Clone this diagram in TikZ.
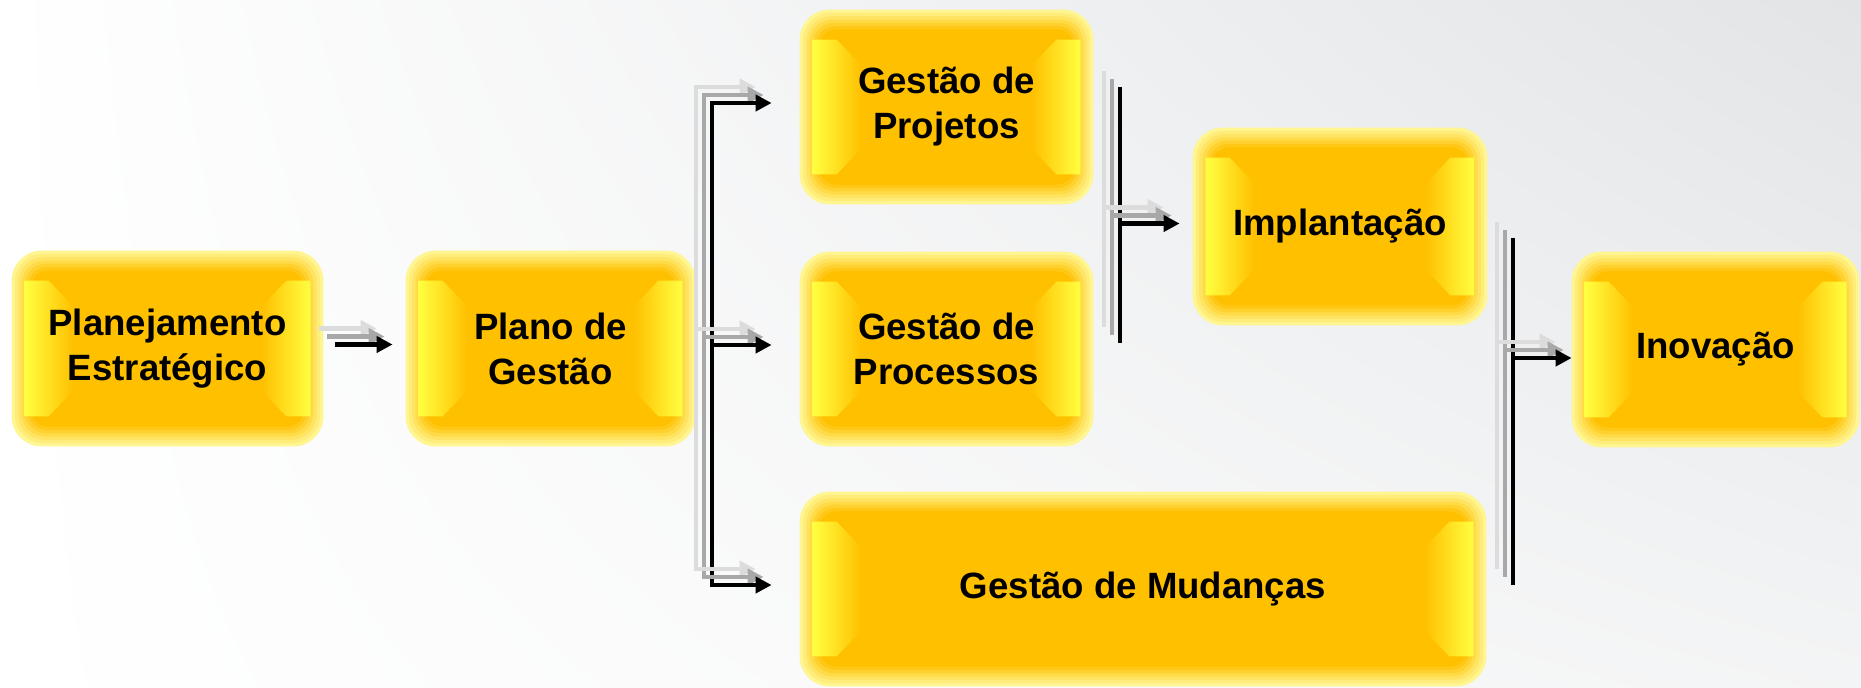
\documentclass[tikz,border=0pt]{standalone}
\usepackage{fontspec}
\setmainfont{Liberation Sans}
\usetikzlibrary{arrows.meta,calc,shadings}
\definecolor{core}{HTML}{FFC000}
\definecolor{glowA}{HTML}{FFF591}
\definecolor{band}{HTML}{FFFF40}
\definecolor{bgGray}{HTML}{E2E4E6}
\definecolor{shA}{HTML}{A8A8A8}
\definecolor{shB}{HTML}{DCDCDC}
\pgfdeclarelayer{bg}\pgfdeclarelayer{boxes}\pgfsetlayers{bg,boxes,main}
\tikzset{
 boxtxt/.style={inner sep=0pt, align=center, font=\bfseries\fontsize{18.3}{22.5}\selectfont},
 conn/.style={line width=2.3pt, line join=miter, -{Triangle[length=8pt,width=8pt]}},
 bar/.style={line width=2.3pt},
}
\newcommand\shdraw[2]{%
 \draw[#1, color=shB, transform canvas={shift={(-16,-16)}}] #2;
 \draw[#1, color=shA, transform canvas={shift={(-8,-8)}}] #2;
 \draw[#1, color=black] #2;}
\newcommand\gbox[6]{%
 \node[boxtxt, minimum width=#4*0.5pt, minimum height=#5*0.5pt] (#1) at (#2,#3) {#6};
 \begin{pgfonlayer}{boxes}
  \foreach \i/\pc in {0/0,1/15,2/32,3/50,4/68,5/84,6/100}{%
   \fill[core!\pc!glowA, rounded corners={15pt-1.1pt*\i}]
     ([shift={({3.3*\i},{3.3*\i})}]#1.north west) rectangle ([shift={({-3.3*\i},{-3.3*\i})}]#1.south east);}
  \shade[left color=band, middle color=band, right color=core]
   ([shift={(13,30)}]#1.north west) -- ([shift={(37,30)}]#1.north west) -- ([shift={(62,56)}]#1.north west)
   -- ([shift={(62,-56)}]#1.south west) -- ([shift={(37,-30)}]#1.south west) -- ([shift={(13,-30)}]#1.south west) -- cycle;
  \shade[left color=core, middle color=band, right color=band]
   ([shift={(-13,30)}]#1.north east) -- ([shift={(-37,30)}]#1.north east) -- ([shift={(-62,56)}]#1.north east)
   -- ([shift={(-62,-56)}]#1.south east) -- ([shift={(-37,-30)}]#1.south east) -- ([shift={(-13,-30)}]#1.south east) -- cycle;
 \end{pgfonlayer}}
\begin{document}
\begin{tikzpicture}[x=0.5pt,y=-0.5pt]
\useasboundingbox (0,0) rectangle (1861,687);
\begin{pgfonlayer}{bg}
 \shade[upper left=white, upper right=bgGray, lower left=white, lower right=white!60!bgGray] (0,0) rectangle (1861,687);
\end{pgfonlayer}

\gbox{pe}{167.5}{348.5}{311}{195}{Planejamento\\Estratégico}
\gbox{pg}{550.5}{348.5}{289}{195}{Plano de\\Gestão}
\gbox{gp}{946.5}{107}{293}{194}{Gestão de\\Projetos}
\gbox{gq}{946.5}{349}{293}{194}{Gestão de\\Processos}
\gbox{gm}{1143}{589}{686}{194}{Gestão de Mudanças}
\gbox{im}{1340}{226.5}{294}{197}{Implantação}
\gbox{iv}{1715.5}{349.5}{287}{195}{Inovação}

% arrow Planejamento -> Plano
\coordinate (a1) at ([yshift=2pt]pe.east);
\coordinate (a2) at ([yshift=2pt]pg.west);
\shdraw{conn, shorten <=6pt, shorten >=6.5pt}{(a1) -- (a2)}

% bracket from Plano de Gestao
\coordinate (b1) at (712,0);
\coordinate (tp) at ([yshift=2pt]gp.west);
\coordinate (tq) at ([yshift=2pt]gq.west);
\coordinate (tm) at ([yshift=2pt]gm.west);
\shdraw{conn, shorten >=14pt}{(b1 |- tm) |- (tp)}
\shdraw{conn, shorten >=14pt}{(b1 |- tq) -- (tq)}
\shdraw{conn, line cap=rect, shorten >=14pt}{(b1 |- tm) -- (tm)}

% bar to Implantacao
\coordinate (v2a) at (1120,87);
\coordinate (v2b) at (1120,343);
\shdraw{bar}{(v2a) -- (v2b)}
\coordinate (ti) at ([yshift=1.5pt]im.west);
\shdraw{conn, shorten >=6.5pt}{(v2a |- ti) -- (ti)}

% bar to Inovacao
\coordinate (v3a) at (1513,238);
\coordinate (v3b) at (1513,585);
\shdraw{bar}{(v3a) -- (v3b)}
\coordinate (tv) at ([yshift=-4.25pt]iv.west);
\shdraw{conn}{(v3a |- tv) -- (tv)}
\end{tikzpicture}
\end{document}
